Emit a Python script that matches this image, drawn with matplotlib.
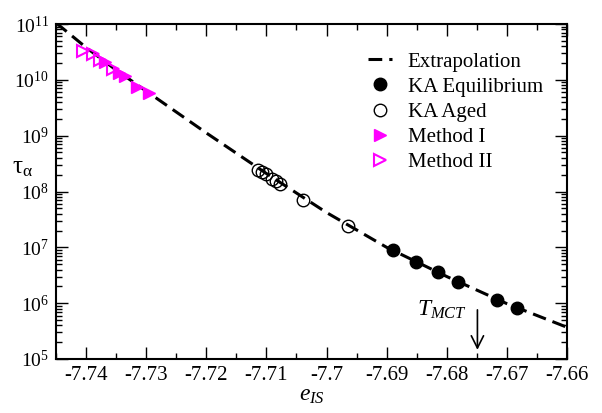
import numpy as np
import matplotlib
import matplotlib.pyplot as plt
from matplotlib.ticker import LogLocator, MultipleLocator, LogFormatterMathtext, NullFormatter, FuncFormatter

matplotlib.use('agg')

plt.rcParams['font.family'] = ['Liberation Serif', 'DejaVu Serif']
plt.rcParams['mathtext.fontset'] = 'custom'
plt.rcParams['mathtext.rm'] = 'Liberation Serif'
plt.rcParams['mathtext.it'] = 'Liberation Serif:italic'
plt.rcParams['mathtext.default'] = 'regular'

### data
extrap_e = [-7.745, -7.74, -7.735, -7.73, -7.72, -7.71, -7.70, -7.69, -7.68, -7.67, -7.66]
extrap_tau = [1.05e11, 3.8e10, 1.5e10, 6.3e9, 1.12e9, 2.1e8, 4.2e7, 1.0e7, 3.0e6, 9.8e5, 3.7e5]

eq_e = [-7.6889, -7.6851, -7.6814, -7.6781, -7.6716, -7.6683]
eq_tau = [8.9e6, 5.5e6, 3.64e6, 2.41e6, 1.16e6, 8.2e5]

aged_e = [-7.7114, -7.7107, -7.7101, -7.7091, -7.7084, -7.7078, -7.7039, -7.6964]
aged_tau = [2.47e8, 2.23e8, 2.05e8, 1.70e8, 1.53e8, 1.39e8, 7.0e7, 2.4e7]

m1_e = [-7.7368, -7.7346, -7.7335, -7.7316, -7.7296]
m1_tau = [2.06e10, 1.34e10, 1.17e10, 7.5e9, 5.7e9]

m2_e = [-7.7405, -7.7389, -7.7377, -7.7356]
m2_tau = [3.3e10, 2.9e10, 2.26e10, 1.54e10]

t_mct = -7.6749

fig = plt.figure(figsize=(6.02, 4.13), dpi=100)
ax = fig.add_axes([56/602, 1-359/413, (567-56)/602, (359-24)/413])

ax.plot(extrap_e, extrap_tau, color='black', lw=2.2, dashes=(4.5, 2.3),
        label='Extrapolation', zorder=2)
ax.plot(eq_e, eq_tau, 'o', color='black', ms=9, ls='none',
        label='KA Equilibrium', zorder=3)
ax.plot(aged_e, aged_tau, 'o', mfc='none', mec='black', mew=1.0, ms=9, ls='none',
        label='KA Aged', zorder=3)
ax.plot(m1_e, m1_tau, '>', color='magenta', ms=8.5, ls='none',
        label='Method I', zorder=3)
ax.plot(m2_e, m2_tau, '>', mfc='none', mec='magenta', mew=1.5, ms=8.5, ls='none',
        label='Method II', zorder=3)

ax.set_yscale('log')
ax.set_xlim(-7.745, -7.66)
ax.set_ylim(1e5, 1e11)

ax.xaxis.set_major_locator(MultipleLocator(0.01))
ax.xaxis.set_minor_locator(MultipleLocator(0.005))
ax.xaxis.set_major_formatter(FuncFormatter(lambda v, p: '%g' % round(v, 2)))
ax.yaxis.set_major_locator(LogLocator(base=10, numticks=10))
ax.yaxis.set_minor_locator(LogLocator(base=10, subs=np.arange(2, 10), numticks=20))
ax.yaxis.set_major_formatter(LogFormatterMathtext())
ax.yaxis.set_minor_formatter(NullFormatter())

ax.tick_params(which='both', direction='in', top=True, right=True, width=1.0)
ax.tick_params(which='major', length=8.5, pad=5)
ax.tick_params(which='minor', length=4.5)
ax.tick_params(axis='x', labelsize=15)
ax.tick_params(axis='y', labelsize=14)
for s in ax.spines.values():
    s.set_linewidth(1.5)

ax.set_xlabel(r'$\mathit{e}_{\mathit{IS}}$', fontsize=17, labelpad=0)
fig.text(22/602, 1-168/413, r'$\tau_{\alpha}$', fontsize=18, ha='center', va='center')

ax.annotate('', xy=(t_mct, 1.3e5), xytext=(t_mct, 8.5e5),
            arrowprops=dict(arrowstyle='->', color='black', lw=1.2, mutation_scale=22))
ax.text(-7.685, 7.5e5, r'$\mathit{T}_{\mathit{MCT}}$', fontsize=17, ha='left', va='center')

ax.legend(loc='upper left', bbox_to_anchor=(368/602, 1-52/413), bbox_transform=fig.transFigure,
          frameon=False, fontsize=15, numpoints=1, handlelength=1.15, handletextpad=0.75,
          labelspacing=0.27, borderpad=0, borderaxespad=0)

plt.savefig('out.png', dpi=100)
